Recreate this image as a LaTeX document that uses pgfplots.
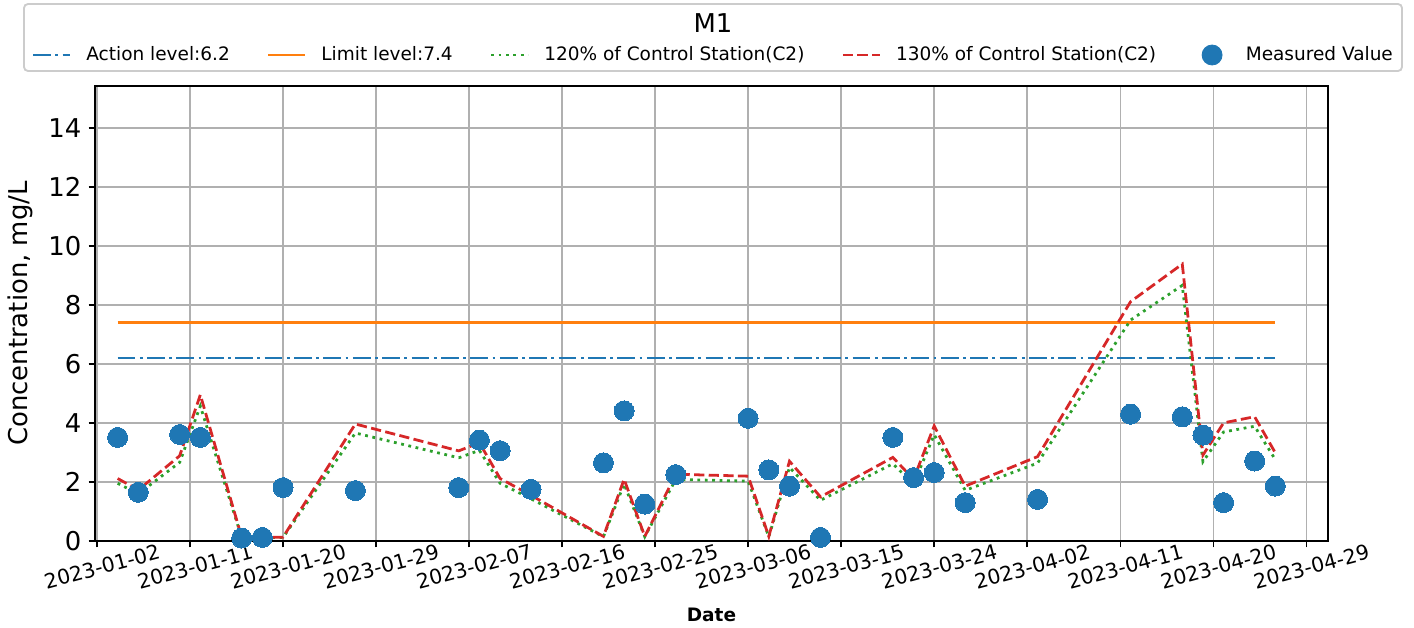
\documentclass[border=0pt]{standalone}
\usepackage{pgfplots}
\usepackage{pgfplotstable}
\pgfplotsset{compat=1.18}
\usepackage{fontspec}
\setmainfont{DejaVu Sans}
\usetikzlibrary{calc}
\definecolor{tabblue}{HTML}{1F77B4}
\definecolor{taborange}{HTML}{FF7F0E}
\definecolor{tabgreen}{HTML}{2CA02C}
\definecolor{tabred}{HTML}{D62728}
\definecolor{gridgray}{HTML}{B0B0B0}
\definecolor{legendgray}{HTML}{CCCCCC}

% day 0 = 2023-01-02
\pgfplotstableread{
day val
2 3.51
4 1.65
8 3.61
10 3.51
14 0.10
16 0.12
18 1.81
25 1.71
35 1.81
37 3.42
39 3.06
42 1.75
49 2.65
51 4.41
53 1.25
56 2.25
63 4.16
65 2.41
67 1.86
70 0.12
77 3.51
79 2.15
81 2.32
84 1.30
91 1.41
100 4.30
105 4.21
107 3.59
109 1.30
112 2.71
114 1.86
}\measured

\pgfplotstableread{
day c120 c130
2 1.956 2.119
4 1.596 1.729
8 2.664 2.886
10 4.572 4.953
14 0.12 0.13
16 0.12 0.13
18 0.12 0.13
25 3.66 3.965
35 2.82 3.055
37 3.072 3.328
39 1.956 2.119
42 1.428 1.547
49 0.144 0.156
51 1.932 2.093
53 0.144 0.156
56 2.088 2.262
63 2.028 2.197
65 0.144 0.156
67 2.496 2.704
70 1.38 1.495
77 2.616 2.834
79 1.932 2.093
81 3.6 3.9
84 1.716 1.859
91 2.64 2.86
100 7.488 8.112
105 8.664 9.386
107 2.688 2.912
109 3.696 4.004
112 3.888 4.212
114 2.76 2.99
}\control

\begin{document}
\begin{tikzpicture}
\begin{axis}[
  name=ax, at={(0,0)}, anchor=south west,
  scale only axis, width=616.5pt, height=227.5pt,
  xmin=-0.19, xmax=119.1, ymin=0, ymax=15.42,
  xtick={0,9,...,117},
  xticklabels={2023-01-02,2023-01-11,2023-01-20,2023-01-29,2023-02-07,2023-02-16,2023-02-25,2023-03-06,2023-03-15,2023-03-24,2023-04-02,2023-04-11,2023-04-20,2023-04-29},
  ytick={0,2,...,14},
  grid=major,
  major grid style={line width=0.74pt, color=gridgray},
  axis line style={line width=0.8pt},
  tick align=outside, xtick pos=bottom, ytick pos=left,
  major tick length=3.24pt,
  every tick/.style={black, line width=0.74pt},
  /pgf/number format/assume math mode=true,
  yticklabel style={font=\fontsize{12.95}{15}\selectfont},
  xticklabel style={font=\fontsize{10.2}{12}\selectfont, rotate=15, anchor=north, yshift=-2.5pt},
  ylabel={Concentration, mg/L},
  ylabel style={font=\fontsize{12.95}{15}\selectfont, at={(axis description cs:-0.0608,0.5)}, anchor=center},
  xlabel={Date},
  xlabel style={font=\bfseries\fontsize{9.25}{11}\selectfont, at={(axis description cs:0.5,-0.1626)}, anchor=center},
  legend columns=5,
  legend cell align=left,
  legend style={at={(rel axis cs:-0.0516,1.0681)}, anchor=west, draw=none, fill=none,
    font=\fontsize{9.25}{11}\selectfont, inner sep=0pt,
    nodes={inner sep=0pt},
    /tikz/every odd column/.style={column sep=7.4pt},
    /tikz/every even column/.style={column sep=18.5pt}},
  legend image code/.code={\path (0pt,-1pt) (18.5pt,1pt);\draw[mark repeat=2,mark phase=2,#1] plot coordinates {(0pt,0pt) (9.25pt,0pt) (18.5pt,0pt)};},
]
\addplot[only marks, mark=*, mark size=5pt, color=tabblue, mark options={fill=tabblue, draw=tabblue, line width=0pt}, forget plot] table[x=day, y=val] {\measured};

\addplot[tabblue, line width=1.39pt, dash pattern=on 8.9pt off 2.2pt on 1.4pt off 2.2pt] coordinates {(2,6.2) (114,6.2)};
\addlegendentry{Action level:6.2}
\addplot[taborange, line width=1.39pt] coordinates {(2,7.4) (114,7.4)};
\addlegendentry{Limit level:7.4}
\addplot[tabgreen, line width=1.39pt, dash pattern=on 1.4pt off 2.3pt] table[x=day, y=c120] {\control};
\addlegendentry{120\% of Control Station(C2)}
\addplot[tabred, line width=1.39pt, dash pattern=on 5.1pt off 2.2pt] table[x=day, y=c130] {\control};
\addlegendentry{130\% of Control Station(C2)}
\addlegendimage{only marks, mark=*, mark size=5pt, color=tabblue, mark options={fill=tabblue, draw=tabblue}}
\addlegendentry{Measured Value}
\end{axis}
\draw[rounded corners=2pt, color=legendgray, line width=0.925pt] (-35.5pt,235pt) rectangle (653.5pt,268.5pt);
\node[font=\fontsize{12.95}{15}\selectfont] at (309pt,259pt) {M1};
\pgfresetboundingbox
\path[use as bounding box] (-47.5pt,-43pt) rectangle (659.5pt,270.5pt);
\end{tikzpicture}
\end{document}
